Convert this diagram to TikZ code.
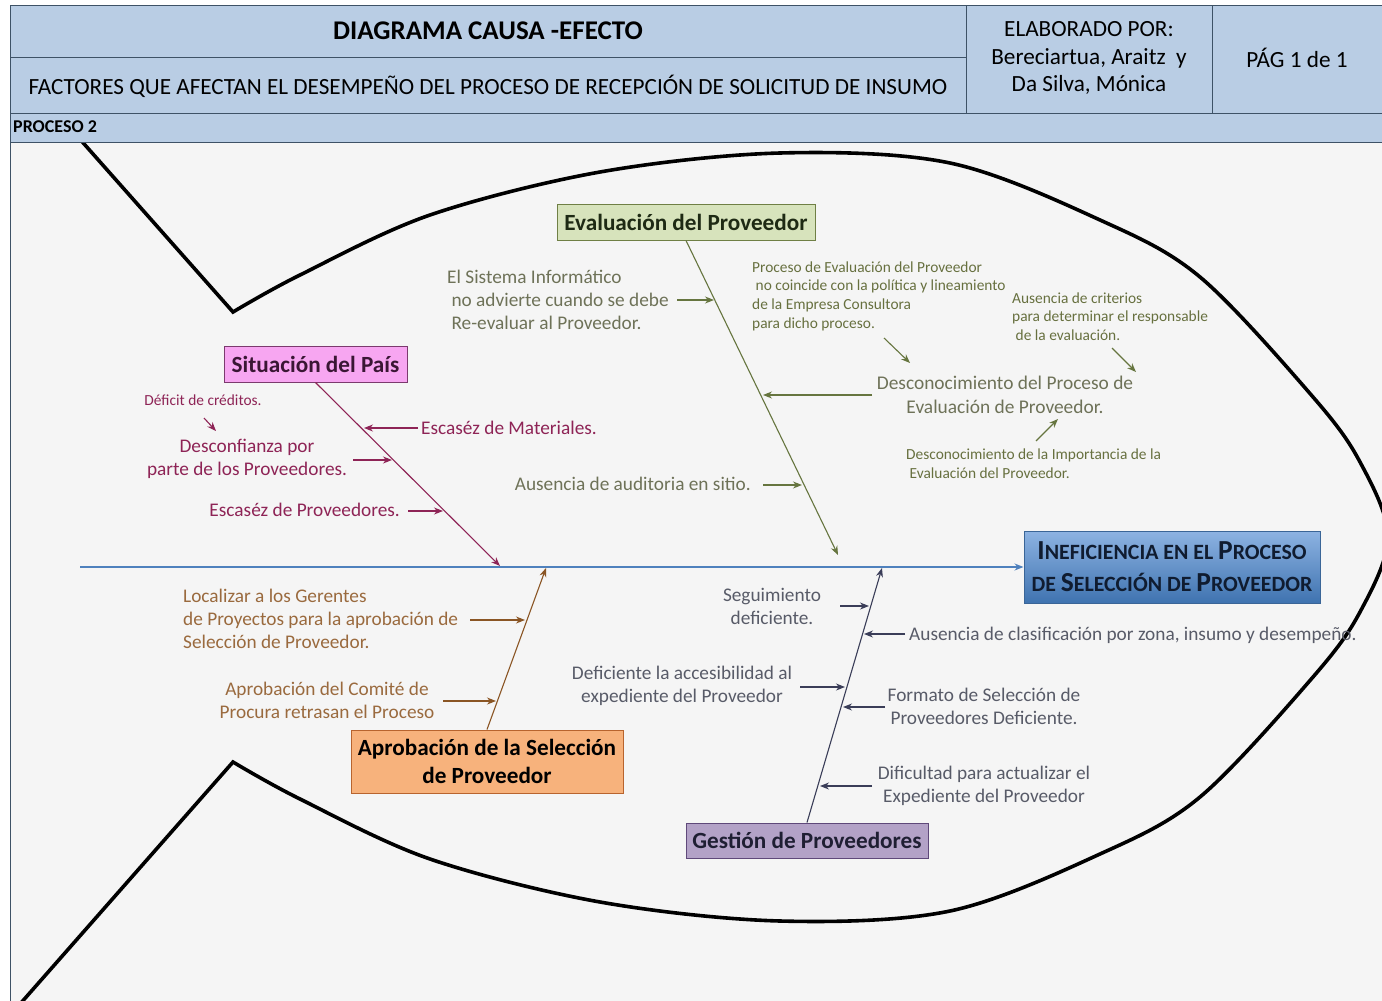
\documentclass[tikz,border=0pt]{standalone}
\usepackage{fontspec}
\setmainfont{Carlito}
\usetikzlibrary{arrows.meta,calc}
\definecolor{hdrfill}{HTML}{B9CDE4}
\definecolor{hdrline}{HTML}{3E5266}
\definecolor{bodyfill}{HTML}{F5F5F5}
\definecolor{spineC}{HTML}{4F81BD}
\definecolor{effTop}{HTML}{8DB3E2}
\definecolor{effBot}{HTML}{3F73B0}
\definecolor{effLine}{HTML}{3A6597}
\definecolor{effText}{HTML}{101C30}
\definecolor{pais}{HTML}{8E2456}
\definecolor{paisFill}{HTML}{F7A6F1}
\definecolor{paisLine}{HTML}{7B3A6E}
\definecolor{paisTxt}{HTML}{3A1634}
\definecolor{evalBone}{HTML}{66753F}
\definecolor{evalText}{HTML}{6E7258}
\definecolor{evalSmall}{HTML}{67703F}
\definecolor{evalFill}{HTML}{D7E3BC}
\definecolor{evalLine}{HTML}{6F7F45}
\definecolor{evalTxt}{HTML}{1E2A14}
\definecolor{aprBone}{HTML}{8A5524}
\definecolor{aprText}{HTML}{9A6A3E}
\definecolor{aprFill}{HTML}{F7B27C}
\definecolor{aprLine}{HTML}{B8642E}
\definecolor{gesBone}{HTML}{3A3D58}
\definecolor{gesText}{HTML}{585B68}
\definecolor{gesFill}{HTML}{B3A2C7}
\definecolor{gesLine}{HTML}{5F497A}
\definecolor{gesTxt}{HTML}{1F1F33}
\newcommand\capL[1]{{\fontsize{27.5}{32}\selectfont#1}}
\begin{document}
\begin{tikzpicture}[x=1pt,y=-1pt,
  tip/.style={-{Stealth[length=9pt,width=7pt]}},
  fish/.style={line width=3.6pt, black, line join=miter},
  causebox/.style={draw, line width=1pt, font=\fontsize{23.2}{28}\selectfont\bfseries, align=center, inner sep=0pt},
  lbl/.style={font=\fontsize{19.3}{23}\selectfont, align=center, inner sep=0pt},
  lbll/.style={lbl, align=left},
  tiny/.style={font=\fontsize{15.4}{18.7}\selectfont, align=left, inner sep=0pt},
  bone/.style={line width=1.1pt, tip},
  twig/.style={line width=1.1pt, tip},
  hdr/.style={font=\fontsize{23.2}{27.5}\selectfont, align=center, inner sep=0pt, text=black}
]
\useasboundingbox (0,0) rectangle (1382,1001);
\fill[white] (0,0) rectangle (1382,1001);

% drawing area
\fill[bodyfill] (10,142) rectangle (1382,1001);
\draw[hdrline, line width=1pt] (10,142) -- (10,1001);

% fish outline: tail and head
\begin{scope}
  \clip (10,143) rectangle (1382,1001);
  \draw[fish] (70,128) -- plot[smooth, tension=0.55] coordinates {
    (233,312) (300,275) (430,215) (600,172) (780,153) (950,163) (1100,220)
    (1200,277) (1313,397) (1360,462) (1388,537) (1360,612) (1313,677)
    (1200,797) (1100,854) (950,911) (780,921) (600,902) (430,859) (300,799)
    (233,762)} -- (13,1012);
\end{scope}

% header block
\fill[hdrfill] (10,5) rectangle (1382,142);
\draw[hdrline, line width=1pt] (1382,5) -- (10,5) -- (10,142) -- (1382,142);
\draw[hdrline, line width=1pt] (10,113) -- (1382,113);
\draw[hdrline, line width=1pt] (10,57) -- (966,57);
\draw[hdrline, line width=1pt] (966,5) -- (966,113);
\draw[hdrline, line width=1pt] (1212,5) -- (1212,113);

\node[hdr, font=\fontsize{27}{30}\selectfont\bfseries] (title) at (488,31) {DIAGRAMA CAUSA -EFECTO};
\node[hdr] (subtitle) at (488,86) {FACTORES QUE AFECTAN EL DESEMPEÑO DEL PROCESO DE RECEPCIÓN DE SOLICITUD DE INSUMO};
\node[hdr] (author) at (1089,58) {ELABORADO POR:\\Bereciartua, Araitz\ \ y\\Da Silva, Mónica};
\node[hdr] (page) at (1297,58) {PÁG 1 de 1};
\node[font=\fontsize{18}{20}\selectfont\bfseries, anchor=west, inner sep=0pt] (proc) at (13,127) {PROCESO 2};

% effect and spine
\node[draw=effLine, line width=1pt, top color=effTop, bottom color=effBot,
      minimum width=296pt, minimum height=72pt, align=center, text=effText,
      font=\fontsize{21.8}{32}\selectfont\bfseries, inner sep=0pt] (eff) at (1172,567)
  {\capL{I}NEFICIENCIA EN EL \capL{P}ROCESO\\DE \capL{S}ELECCIÓN DE \capL{P}ROVEEDOR};
\coordinate (spineStart) at (80,567);
\draw[spineC, line width=1.3pt, tip] (spineStart) -- (eff.west);

% main causes
\node[causebox, fill=paisFill, draw=paisLine, text=paisTxt, minimum width=183pt, minimum height=36pt] (sit) at (315.5,364) {Situación del País};
\node[causebox, fill=evalFill, draw=evalLine, text=evalTxt, minimum width=258pt, minimum height=36pt] (ev) at (686,222) {Evaluación del Proveedor};
\node[causebox, fill=aprFill, draw=aprLine, text=black, minimum width=272pt, minimum height=63pt] (apr) at (487,761.5) {Aprobación de la Selección\\de Proveedor};
\node[causebox, fill=gesFill, draw=gesLine, text=gesTxt, minimum width=242pt, minimum height=35pt] (ges) at (807,840.5) {Gestión de Proveedores};

\coordinate (sitTip) at (500,566);
\coordinate (evTip) at (838,555);
\coordinate (aprTip) at (546,568);
\coordinate (gesTip) at (882,568);
\draw[bone, pais] (sit.south) -- (sitTip);
\draw[bone, evalBone] (ev.south) -- (evTip);
\draw[bone, aprBone] (apr.north) -- (aprTip);
\draw[bone, gesBone] (ges.north) -- (gesTip);

% Situación del País
\begin{scope}[text=pais]
  \node[lbl, anchor=west] (p1) at (421,428) {Escaséz de Materiales.};
  \node[lbl] (p2) at (247,459) {Desconfianza por\\parte de los Proveedores.};
  \node[tiny] (p3) at (203,400) {Déficit de créditos.};
  \node[lbl, anchor=east] (p4) at (400,510) {Escaséz de Proveedores.};
\end{scope}
\coordinate (p1a) at (418,428); \coordinate (p1b) at (364,428);
\coordinate (p2a) at (353,460); \coordinate (p2b) at (392,460);
\coordinate (p3a) at (204,418); \coordinate (p3b) at (216,431);
\coordinate (p4a) at (408,511); \coordinate (p4b) at (443,511);
\draw[twig, pais] (p1a) -- (p1b);
\draw[twig, pais] (p2a) -- (p2b);
\draw[twig, pais] (p3a) -- (p3b);
\draw[twig, pais] (p4a) -- (p4b);

% Evaluación del Proveedor
\node[lbll, text=evalText, anchor=west] (e1) at (447,300) {El Sistema Informático\\\ no advierte cuando se debe\\\ Re-evaluar al Proveedor.};
\node[tiny, text=evalSmall, anchor=west] (e2) at (752,296) {Proceso de Evaluación del Proveedor\\\ no coincide con la política y lineamiento\\de la Empresa Consultora\\para dicho proceso.};
\node[tiny, text=evalSmall, anchor=west] (e3) at (1012,316.5) {Ausencia de criterios\\para determinar el responsable\\\ de la evaluación.};
\node[lbl, text=evalText, font=\fontsize{19.4}{24}\selectfont] (e4) at (1005,395) {Desconocimiento del Proceso de\\Evaluación de Proveedor.};
\node[tiny, text=evalSmall, anchor=west] (e5) at (906,463.5) {Desconocimiento de la Importancia de la\\\ Evaluación del Proveedor.};
\node[lbl, text=evalText, anchor=east] (e6) at (751,484) {Ausencia de auditoria en sitio.};
\coordinate (e1a) at (677,300); \coordinate (e1b) at (714,300);
\coordinate (e2a) at (884,338); \coordinate (e2b) at (910,363);
\coordinate (e3a) at (1112,348); \coordinate (e3b) at (1136,372);
\coordinate (e4a) at (872,395); \coordinate (e4b) at (763,395);
\coordinate (e5a) at (1036,441); \coordinate (e5b) at (1058,419);
\coordinate (e6a) at (763,485); \coordinate (e6b) at (802,485);
\draw[twig, evalBone] (e1a) -- (e1b);
\draw[twig, evalBone] (e2a) -- (e2b);
\draw[twig, evalBone] (e3a) -- (e3b);
\draw[twig, evalBone] (e4a) -- (e4b);
\draw[twig, evalBone] (e5a) -- (e5b);
\draw[twig, evalBone] (e6a) -- (e6b);

% Aprobación de la Selección de Proveedor
\node[lbll, text=aprText, anchor=west] (a1) at (183,619) {Localizar a los Gerentes\\de Proyectos para la aprobación de\\Selección de Proveedor.};
\node[lbl, text=aprText] (a2) at (327,700.5) {Aprobación del Comité de\\Procura retrasan el Proceso};
\coordinate (a1a) at (470,620); \coordinate (a1b) at (525,620);
\coordinate (a2a) at (443,701); \coordinate (a2b) at (496,701);
\draw[twig, aprBone] (a1a) -- (a1b);
\draw[twig, aprBone] (a2a) -- (a2b);

% Gestión de Proveedores
\begin{scope}[text=gesText]
  \node[lbl] (g1) at (772,606.5) {Seguimiento\\deficiente.};
  \node[lbl, anchor=west] (g2) at (909,635) {Ausencia de clasificación por zona, insumo y desempeño.};
  \node[lbl] (g3) at (682,685.5) {Deficiente la accesibilidad al\\expediente del Proveedor};
  \node[lbl] (g4) at (984,706.5) {Formato de Selección de\\Proveedores Deficiente.};
  \node[lbl] (g5) at (984,785.5) {Dificultad para actualizar el\\Expediente del Proveedor};
\end{scope}
\coordinate (g1a) at (840,606); \coordinate (g1b) at (869,606);
\coordinate (g2a) at (905,634); \coordinate (g2b) at (864,634);
\coordinate (g3a) at (800,687); \coordinate (g3b) at (845,687);
\coordinate (g4a) at (885,707); \coordinate (g4b) at (843,707);
\coordinate (g5a) at (872,786); \coordinate (g5b) at (820,786);
\draw[twig, gesBone] (g1a) -- (g1b);
\draw[twig, gesBone] (g2a) -- (g2b);
\draw[twig, gesBone] (g3a) -- (g3b);
\draw[twig, gesBone] (g4a) -- (g4b);
\draw[twig, gesBone] (g5a) -- (g5b);
\end{tikzpicture}
\end{document}
